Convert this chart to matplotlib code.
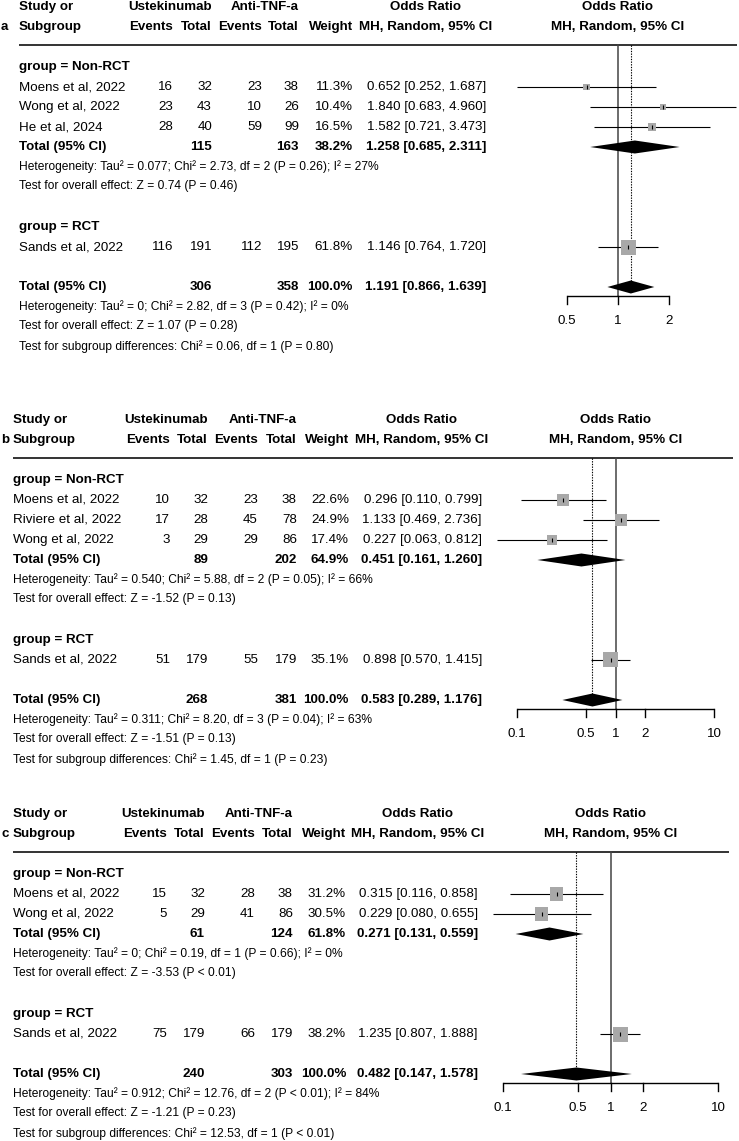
import matplotlib.pyplot as plt
import numpy as np

plt.rcParams['font.family'] = ['Liberation Sans', 'DejaVu Sans']

W, H = 739, 1141
FS = 9.6
FS_SMALL = 8.65
SQUARE_COLOR = '#a8a8a8'

### PANEL A DATA ###
a_study = ["Moens et al, 2022", "Wong et al, 2022", "He et al, 2024", "Sands et al, 2022"]
a_ev_ust = [16, 23, 28, 116]
a_n_ust = [32, 43, 40, 191]
a_ev_tnf = [23, 10, 59, 112]
a_n_tnf = [38, 26, 99, 195]
a_weight = [11.3, 10.4, 16.5, 61.8]
a_or = [0.652, 1.840, 1.582, 1.146]
a_lo = [0.252, 0.683, 0.721, 0.764]
a_hi = [1.687, 4.960, 3.473, 1.720]
a_sub = [115, 163, 38.2, 1.258, 0.685, 2.311]
a_total = [306, 358, 100.0, 1.191, 0.866, 1.639]
a_text = ["Heterogeneity: Tau² = 0.077; Chi² = 2.73, df = 2 (P = 0.26); I² = 27%",
          "Test for overall effect: Z = 0.74 (P = 0.46)",
          "Heterogeneity: Tau² = 0; Chi² = 2.82, df = 3 (P = 0.42); I² = 0%",
          "Test for overall effect: Z = 1.07 (P = 0.28)",
          "Test for subgroup differences: Chi² = 0.06, df = 1 (P = 0.80)"]
a_ticks = [0.5, 1, 2]

### PANEL B DATA ###
b_study = ["Moens et al, 2022", "Riviere et al, 2022", "Wong et al, 2022", "Sands et al, 2022"]
b_ev_ust = [10, 17, 3, 51]
b_n_ust = [32, 28, 29, 179]
b_ev_tnf = [23, 45, 29, 55]
b_n_tnf = [38, 78, 86, 179]
b_weight = [22.6, 24.9, 17.4, 35.1]
b_or = [0.296, 1.133, 0.227, 0.898]
b_lo = [0.110, 0.469, 0.063, 0.570]
b_hi = [0.799, 2.736, 0.812, 1.415]
b_sub = [89, 202, 64.9, 0.451, 0.161, 1.260]
b_total = [268, 381, 100.0, 0.583, 0.289, 1.176]
b_text = ["Heterogeneity: Tau² = 0.540; Chi² = 5.88, df = 2 (P = 0.05); I² = 66%",
          "Test for overall effect: Z = -1.52 (P = 0.13)",
          "Heterogeneity: Tau² = 0.311; Chi² = 8.20, df = 3 (P = 0.04); I² = 63%",
          "Test for overall effect: Z = -1.51 (P = 0.13)",
          "Test for subgroup differences: Chi² = 1.45, df = 1 (P = 0.23)"]
b_ticks = [0.1, 0.5, 1, 2, 10]

### PANEL C DATA ###
c_study = ["Moens et al, 2022", "Wong et al, 2022", "Sands et al, 2022"]
c_ev_ust = [15, 5, 75]
c_n_ust = [32, 29, 179]
c_ev_tnf = [28, 41, 66]
c_n_tnf = [38, 86, 179]
c_weight = [31.2, 30.5, 38.2]
c_or = [0.315, 0.229, 1.235]
c_lo = [0.116, 0.080, 0.807]
c_hi = [0.858, 0.655, 1.888]
c_sub = [61, 124, 61.8, 0.271, 0.131, 0.559]
c_total = [240, 303, 100.0, 0.482, 0.147, 1.578]
c_text = ["Heterogeneity: Tau² = 0; Chi² = 0.19, df = 1 (P = 0.66); I² = 0%",
          "Test for overall effect: Z = -3.53 (P < 0.01)",
          "Heterogeneity: Tau² = 0.912; Chi² = 12.76, df = 2 (P < 0.01); I² = 84%",
          "Test for overall effect: Z = -1.21 (P = 0.23)",
          "Test for subgroup differences: Chi² = 12.53, df = 1 (P < 0.01)"]
c_ticks = [0.1, 0.5, 1, 2, 10]

### LAYOUT (pixels) ###
lay_a = dict(label='a', top=7, x0=19, cols=[173, 212, 262, 299, 353], or_right=486,
             one_px=618, px_dec=169.4, line_right=737)
lay_b = dict(label='b', top=420, x0=13, cols=[170, 208, 258, 297, 349], or_right=482,
             one_px=615.5, px_dec=98.5, line_right=733)
lay_c = dict(label='c', top=814, x0=13, cols=[167, 205, 255, 293, 346], or_right=478,
             one_px=610.5, px_dec=107.5, line_right=729)


def fmt_or(o, lo, hi):
    return f"{o:.3f} [{lo:.3f}, {hi:.3f}]"


def draw_panel(fig, ax, lay, study, ev1, n1, ev2, n2, weight, orr, lo, hi, sub, total, texts, ticks):
    h = lay['top']
    x0 = lay['x0']
    c1, c2, c3, c4, c5 = lay['cols']
    orx = lay['or_right']
    n_nr = len(study) - 1

    # row positions
    y_hline = h + 38
    y_group1 = h + 60
    y_rows = [h + 80 + 20 * i for i in range(n_nr)]
    y_sub = h + 80 + 20 * n_nr
    y_group2 = y_sub + 80
    y_rows.append(y_group2 + 20)
    y_total = y_rows[-1] + 40
    y_axis = y_total + 9
    y_lab = y_total + 34

    # header
    ax.text(1, h + 20, lay['label'], fontsize=FS, fontweight='bold', ha='left', va='center')
    ax.text(x0, h, "Study or", fontsize=FS, fontweight='bold', va='center')
    ax.text(x0, h + 20, "Subgroup", fontsize=FS, fontweight='bold', va='center')
    ax.text(c2, h, "Ustekinumab", fontsize=FS, fontweight='bold', ha='right', va='center')
    ax.text(c4, h, "Anti-TNF-a", fontsize=FS, fontweight='bold', ha='right', va='center')
    for cx, s in zip(lay['cols'], ["Events", "Total", "Events", "Total", "Weight"]):
        ax.text(cx, h + 20, s, fontsize=FS, fontweight='bold', ha='right', va='center')
    ax.text(orx - 60, h, "Odds Ratio", fontsize=FS, fontweight='bold', ha='center', va='center')
    ax.text(orx - 60, h + 20, "MH, Random, 95% CI", fontsize=FS, fontweight='bold', ha='center', va='center')
    ax.text(lay['one_px'], h, "Odds Ratio", fontsize=FS, fontweight='bold', ha='center', va='center')
    ax.text(lay['one_px'], h + 20, "MH, Random, 95% CI", fontsize=FS, fontweight='bold', ha='center', va='center')
    ax.plot([x0, lay['line_right']], [y_hline, y_hline], color='#333333', lw=1.4, solid_capstyle='butt')

    # groups
    ax.text(x0, y_group1, "group = Non-RCT", fontsize=FS, fontweight='bold', va='center')
    ax.text(x0, y_group2, "group = RCT", fontsize=FS, fontweight='bold', va='center')

    # study rows
    for i, y in enumerate(y_rows):
        ax.text(x0, y, study[i], fontsize=FS, va='center')
        for cx, v in zip([c1, c2, c3, c4], [ev1[i], n1[i], ev2[i], n2[i]]):
            ax.text(cx, y, str(v), fontsize=FS, ha='right', va='center')
        ax.text(c5, y, f"{weight[i]:.1f}%", fontsize=FS, ha='right', va='center')
        ax.text(orx, y, fmt_or(orr[i], lo[i], hi[i]), fontsize=FS, ha='right', va='center')

    # totals
    for y, t in [(y_sub, sub), (y_total, total)]:
        ax.text(x0, y, "Total (95% CI)", fontsize=FS, fontweight='bold', va='center')
        ax.text(c2, y, str(t[0]), fontsize=FS, fontweight='bold', ha='right', va='center')
        ax.text(c4, y, str(t[1]), fontsize=FS, fontweight='bold', ha='right', va='center')
        ax.text(c5, y, f"{t[2]:.1f}%", fontsize=FS, fontweight='bold', ha='right', va='center')
        ax.text(orx, y, fmt_or(t[3], t[4], t[5]), fontsize=FS, fontweight='bold', ha='right', va='center')

    # small text
    for y, s in zip([y_sub + 20, y_sub + 39, y_total + 20, y_total + 39, y_total + 60], texts):
        ax.text(x0, y, s, fontsize=FS_SMALL, va='center')

    # forest axes, log scale, pixel rows
    c, k = lay['one_px'], lay['px_dec']
    fl, fr = 490, W
    yt, yb = y_hline - 2, y_lab + 12
    fa = fig.add_axes([fl / W, 1 - yb / H, (fr - fl) / W, (yb - yt) / H])
    fa.set_xscale('log')
    fa.set_xlim(10 ** ((fl - c) / k), 10 ** ((fr - c) / k))
    fa.set_ylim(yb, yt)
    fa.axis('off')

    fa.plot([1, 1], [y_hline, y_axis], color='#444444', lw=1.1, zorder=1)
    fa.plot([total[3], total[3]], [y_hline, y_total], color='black', lw=0.8,
            linestyle=(0, (1.2, 1.2)), zorder=1)

    wmax = max(weight)
    sides = [15 * np.sqrt(w / wmax) * 0.72 for w in weight]
    fa.hlines(y_rows, lo, hi, color='black', lw=0.8, zorder=2)
    fa.scatter(orr, y_rows, s=[s ** 2 for s in sides], marker='s', color=SQUARE_COLOR,
               edgecolors='none', zorder=3)
    fa.plot(orr, y_rows, linestyle='none', marker='|', markersize=3.5, mew=0.8, color='black', zorder=4)

    for y, t in [(y_sub, sub), (y_total, total)]:
        fa.fill([t[4], t[3], t[5], t[3]], [y, y - 6.5, y, y + 6.5], color='black', lw=0, zorder=5)

    # x axis
    fa.plot([ticks[0], ticks[-1]], [y_axis, y_axis], color='black', lw=1.0, solid_capstyle='butt')
    for t in ticks:
        fa.plot([t, t], [y_axis, y_axis + 8], color='black', lw=1.0)
        fa.text(t, y_lab, f"{t:g}", fontsize=FS, ha='center', va='center')


fig = plt.figure(figsize=(W / 100, H / 100), dpi=100)
ax = fig.add_axes([0, 0, 1, 1])
ax.set_xlim(0, W)
ax.set_ylim(H, 0)
ax.axis('off')

draw_panel(fig, ax, lay_a, a_study, a_ev_ust, a_n_ust, a_ev_tnf, a_n_tnf, a_weight,
           a_or, a_lo, a_hi, a_sub, a_total, a_text, a_ticks)
draw_panel(fig, ax, lay_b, b_study, b_ev_ust, b_n_ust, b_ev_tnf, b_n_tnf, b_weight,
           b_or, b_lo, b_hi, b_sub, b_total, b_text, b_ticks)
draw_panel(fig, ax, lay_c, c_study, c_ev_ust, c_n_ust, c_ev_tnf, c_n_tnf, c_weight,
           c_or, c_lo, c_hi, c_sub, c_total, c_text, c_ticks)

fig.savefig("out.png", dpi=100)
